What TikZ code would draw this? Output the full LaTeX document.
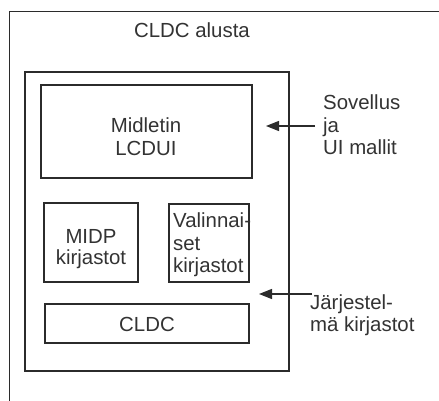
\documentclass[tikz,border=0pt]{standalone}
\usepackage{fontspec}
\setmainfont{Liberation Sans}
\usetikzlibrary{arrows.meta}
\definecolor{ink}{HTML}{2B2B2B}
\definecolor{txt}{HTML}{333333}
\begin{document}
\begin{tikzpicture}[x=1pt,y=-1pt,
  frame/.style={draw=ink,line width=1.4pt},
  box/.style={draw=ink,line width=1.4pt,inner sep=0pt,outer sep=0pt},
  lbl/.style={text=txt,inner sep=0pt,font=\fontsize{20.4}{22}\selectfont},
  pointer/.style={draw=ink,line width=1.3pt,-{Triangle[length=13pt,width=10pt]}}]
\useasboundingbox (0,0) rectangle (439,401);
\fill[white] (0,0) rectangle (439,401);
% outer platform frame (open to the right and bottom)
\draw[frame] (9.5,401) -- (9.5,11.5) -- (439,11.5);
\node[lbl,anchor=base] (platform) at (192,38) {CLDC alusta};
% inner container
\draw[box] (25,72) rectangle (289,371);
\coordinate (inner) at (25,72);
% component boxes
\node[box,anchor=north west,minimum width=211pt,minimum height=93pt] (midlet) at (41,85) {};
\node[box,anchor=north west,minimum width=94pt,minimum height=79pt] (midp) at (44,203) {};
\node[box,anchor=north west,minimum width=80pt,minimum height=78pt] (opt) at (169,204) {};
\node[box,anchor=north west,minimum width=204pt,minimum height=39pt] (cldc) at (45,304) {};
% component labels
\node[lbl,anchor=base] (midletA) at (146,133) {Midletin};
\node[lbl,anchor=base] (midletB) at (146,155) {LCDUI};
\node[lbl,anchor=base] (midpA) at (91,243) {MIDP};
\node[lbl,anchor=base] (midpB) at (91,264) {kirjastot};
\node[lbl,anchor=base west] (optA) at (173,227) {Valinnai-};
\node[lbl,anchor=base west] (optB) at (173,250) {set};
\node[lbl,anchor=base west] (optC) at (173,272) {kirjastot};
\node[lbl,anchor=base] (cldcT) at (147,331) {CLDC};
% side annotations
\node[lbl,anchor=base west] (appA) at (323,110) {Sovellus};
\node[lbl,anchor=base west] (appB) at (323,132) {ja};
\node[lbl,anchor=base west] (appC) at (323,154) {UI mallit};
\node[lbl,anchor=base west] (sysA) at (310,309) {Järjestel-};
\node[lbl,anchor=base west] (sysB) at (310,331) {mä kirjastot};
% pointers
\coordinate (appTail) at (315,126);
\coordinate (appTip) at (266,126);
\coordinate (sysTail) at (312,294);
\coordinate (sysTip) at (259,294);
\draw[pointer] (appTail) -- (appTip);
\draw[pointer] (sysTail) -- (sysTip);
\end{tikzpicture}
\end{document}
